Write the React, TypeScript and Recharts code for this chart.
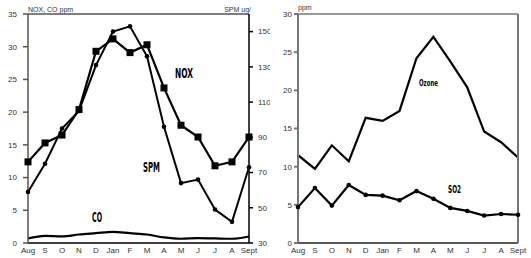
import { LineChart, Line, XAxis, YAxis, ReferenceLine } from 'recharts'

const months = ['Aug', 'S', 'O', 'N', 'D', 'Jan', 'F', 'M', 'A', 'M', 'J', 'J', 'A', 'Sept']
const nox = [12.4, 15.3, 16.5, 20.4, 29.3, 31.2, 29.1, 30.3, 23.7, 18.0, 16.2, 11.8, 12.4, 16.2]
const spm = [59, 75, 95, 105, 131, 150, 153, 136, 96, 64, 66, 49, 42, 73]
const co = [0.7, 1.1, 1.0, 1.3, 1.5, 1.7, 1.5, 1.3, 0.85, 0.65, 0.75, 0.7, 0.65, 1.0]
const ozone = [11.5, 9.7, 12.8, 10.7, 16.4, 16.0, 17.3, 24.2, 27.0, 23.8, 20.4, 14.6, 13.2, 11.2]
const so2 = [4.7, 7.2, 4.9, 7.6, 6.3, 6.2, 5.6, 6.8, 5.8, 4.6, 4.2, 3.6, 3.8, 3.7]

const ppmTicks = [0, 5, 10, 15, 20, 25, 30, 35]
const spmTicks = [30, 50, 70, 90, 110, 130, 150]
const ppm2Ticks = [0, 5, 10, 15, 20, 25, 30]

const data = months.map((m, i) => ({
  m,
  nox: nox[i],
  spm: spm[i],
  co: co[i],
  ozone: ozone[i],
  so2: so2[i]
}))

const FONT = 'Liberation Sans, Arial, sans-serif'
const tickStyle = { fontSize: 8, fill: '#333', fontFamily: FONT }

const Square = (props: any) => {
  const { cx, cy } = props
  if (cx == null || cy == null) return null
  return <rect x={cx - 3.5} y={cy - 3.5} width={7} height={7} fill="#000" />
}

const Dot = (props: any) => {
  const { cx, cy } = props
  if (cx == null || cy == null) return null
  return <circle cx={cx} cy={cy} r={2.3} fill="#000" />
}

const Tag = ({ x, y, w, h, children }: any) => (
  <text
    x={x}
    y={y}
    textAnchor="middle"
    dominantBaseline="central"
    fontFamily="Liberation Sans Narrow, DejaVu Sans Condensed, sans-serif"
    fontWeight="bold"
    fontSize={h * 1.35}
    textLength={w}
    lengthAdjust="spacingAndGlyphs"
    fill="#000"
  >
    {children}
  </text>
)

export default function App() {
  return (
    <div style={{ position: 'absolute', left: 0, top: 0, width: 531, height: 258, overflow: 'hidden', background: '#fff' }}>
      <div style={{ position: 'absolute', left: 0, top: 0 }}>
        <LineChart width={270} height={258} data={data} margin={{ top: 14, right: 0, left: 0, bottom: 0 }}>
          <XAxis
            dataKey="m"
            height={15}
            tickLine={false}
            tickSize={0}
            tickMargin={4}
            interval={0}
            padding={{ left: 0, right: 0 }}
            stroke="#000"
            strokeWidth={1.5}
            tick={tickStyle}
          />
          <YAxis
            yAxisId="left"
            width={28}
            domain={[0, 35]}
            ticks={ppmTicks}
            tickSize={5}
            tickMargin={6}
            stroke="#555"
            strokeWidth={1.5}
            tick={tickStyle}
          />
          <YAxis
            yAxisId="right"
            orientation="right"
            width={21}
            domain={[30, 160]}
            ticks={spmTicks}
            tickSize={4}
            tickMargin={5}
            stroke="#000"
            strokeWidth={1.5}
            tick={tickStyle}
          />
          <ReferenceLine yAxisId="left" y={35} stroke="#555" strokeWidth={1.5} />
          <Line yAxisId="left" dataKey="co" type="monotone" stroke="#000" strokeWidth={2.2} dot={false} isAnimationActive={false} />
          <Line yAxisId="right" dataKey="spm" type="linear" stroke="#000" strokeWidth={2} dot={<Dot />} isAnimationActive={false} />
          <Line yAxisId="left" dataKey="nox" type="linear" stroke="#000" strokeWidth={2.2} dot={<Square />} isAnimationActive={false} />
          <text x={28} y={9} fontSize={7} fontFamily={FONT} fill="#333" dominantBaseline="central">NOX, CO ppm</text>
          <text x={251} y={9} fontSize={7} fontFamily={FONT} fill="#333" textAnchor="end" dominantBaseline="central">SPM ug/</text>
          <Tag x={184} y={73} w={18} h={10}>NOX</Tag>
          <Tag x={151.5} y={167} w={17} h={10}>SPM</Tag>
          <Tag x={97} y={217} w={10} h={10}>CO</Tag>
        </LineChart>
      </div>
      <div style={{ position: 'absolute', left: 270, top: 0 }}>
        <LineChart width={280} height={258} data={data} margin={{ top: 14, right: 0, left: 0, bottom: 0 }}>
          <XAxis
            dataKey="m"
            height={15}
            tickLine={false}
            tickSize={0}
            tickMargin={4}
            interval={0}
            padding={{ left: 0, right: 0 }}
            stroke="#222"
            strokeWidth={1.5}
            tick={tickStyle}
          />
          <YAxis
            yAxisId="left"
            width={28}
            domain={[0, 30]}
            ticks={ppm2Ticks}
            tickSize={4}
            tickMargin={2}
            stroke="#777"
            strokeWidth={2}
            tick={tickStyle}
          />
          <YAxis
            yAxisId="right"
            orientation="right"
            width={32}
            domain={[0, 30]}
            ticks={ppm2Ticks}
            tickSize={4}
            tickMargin={2}
            stroke="#777"
            strokeWidth={2}
            tick={tickStyle}
          />
          <ReferenceLine yAxisId="left" y={30} stroke="#777" strokeWidth={1.5} />
          <Line yAxisId="left" dataKey="ozone" type="linear" stroke="#000" strokeWidth={2.2} dot={false} isAnimationActive={false} />
          <Line yAxisId="left" dataKey="so2" type="linear" stroke="#000" strokeWidth={2.2} dot={<Dot />} isAnimationActive={false} />
          <text x={28} y={7} fontSize={7} fontFamily={FONT} fill="#333" dominantBaseline="central">ppm</text>
          <Tag x={158.5} y={82.5} w={19} h={7}>Ozone</Tag>
          <Tag x={184.5} y={189.5} w={13} h={8}>SO2</Tag>
        </LineChart>
      </div>
    </div>
  )
}
